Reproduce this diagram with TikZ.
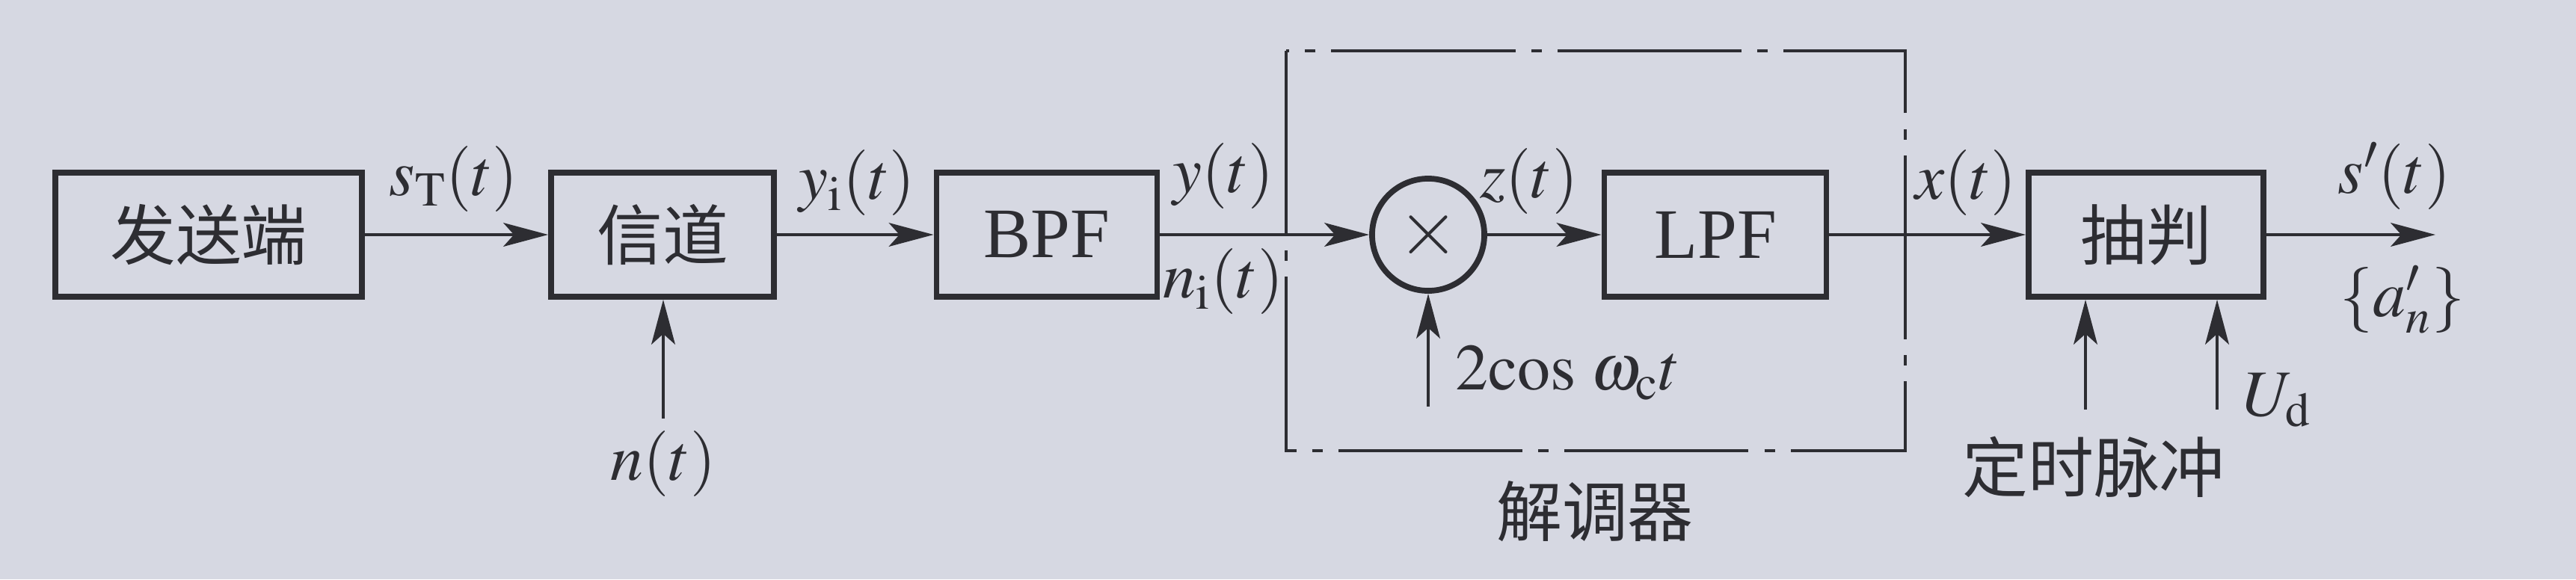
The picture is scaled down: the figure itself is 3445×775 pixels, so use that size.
\documentclass[tikz,border=0pt]{standalone}
\usepackage{mathptmx}
\usepackage{fontspec}
\setmainfont{Liberation Serif}
\newfontfamily\cjk{Noto Sans CJK SC}
\usetikzlibrary{arrows.meta}
\definecolor{paper}{RGB}{214,216,226}
\definecolor{ink}{RGB}{45,45,50}
\begin{document}
\begin{tikzpicture}[x=0.01cm, y=-0.01cm,
  box/.style={draw=ink, line width=2.2pt, minimum height=1.66cm, inner sep=0pt},
  cn/.style={font=\cjk\fontsize{25}{27}\selectfont, text=ink},
  txt/.style={font=\fontsize{27}{29}\selectfont, text=ink},
  lbl/.style={font=\fontsize{25}{28}\selectfont, text=ink, inner sep=0pt},
  arr/.style={draw=ink, line width=1.4pt, -{Stealth[length=17pt,width=9pt,inset=4pt]}},
  frame/.style={draw=ink, line width=1.2pt, dash pattern=on 70pt off 6pt on 4pt off 6pt}]
\useasboundingbox[fill=paper] (0,0) rectangle (3445,775);
% blocks
\node[box, cn, minimum width=4.10cm] (src) at (279,314) {发送端};
\node[box, cn, minimum width=2.98cm] (chan) at (886,314) {信道};
\node[box, txt, minimum width=2.95cm] (bpf) at (1400,314) {BPF};
\node[draw=ink, line width=2.2pt, circle, minimum size=1.5cm, inner sep=0pt, text=ink, font=\fontsize{30}{30}\selectfont] (mult) at (1910,314) {$\times$};
\node[box, txt, minimum width=2.97cm] (lpf) at (2294,314) {LPF};
\node[box, cn, minimum width=3.14cm] (dec) at (2870,314) {抽判};
% demodulator frame
\draw[frame] (1720,68) rectangle (2548,603);
\node[cn] (dem) at (2133,684) {解调器};
% signal labels
\node[lbl] (sT) at (607,240) {$s_{\mathrm T}(t)$};
\node[lbl] (yi) at (1146,245) {$y_{\mathrm i}(t)$};
\node[lbl] (yt) at (1636,236) {$y(t)$};
\node[lbl] (nit) at (1636,377) {$n_{\mathrm i}(t)$};
\node[lbl] (zt) at (2045,243) {$z(t)$};
\node[lbl] (xt) at (2629,245) {$x(t)$};
\node[lbl] (sp) at (3202,236) {$s'(t)$};
\node[lbl] (an) at (3213,401) {$\{a'_n\}$};
\node[lbl] (nt) at (887,621) {$n(t)$};
\node[lbl, anchor=west] (cosl) at (1946,499) {$2\mathrm{cos}\;\omega_{\mathrm c}t$};
\node[lbl] (Ud) at (3045,535) {$U_{\mathrm d}$};
\node[cn] (tim) at (2800,625) {定时脉冲};
% connectors
\draw[arr] (src) -- (chan);
\draw[arr] (chan) -- (bpf);
\draw[arr] (bpf) -- (mult);
\draw[arr] (mult) -- (lpf);
\draw[arr] (lpf) -- (dec);
\coordinate (out) at (3257,314);
\draw[arr] (dec) -- (out);
\coordinate (nin) at (887,560);
\draw[arr] (nin) -- (nin |- chan.south);
\coordinate (cin) at (1910,544);
\draw[arr] (cin) -- (mult.south);
\coordinate (tin) at (2789,548);
\draw[arr] (tin) -- (tin |- dec.south);
\coordinate (uin) at (2965,548);
\draw[arr] (uin) -- (uin |- dec.south);
\end{tikzpicture}
\end{document}
